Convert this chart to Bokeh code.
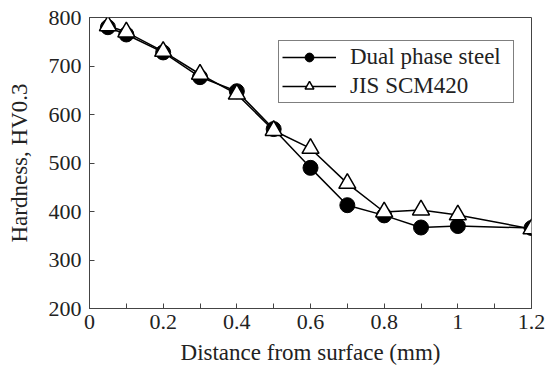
from bokeh.plotting import figure
from bokeh.models import FixedTicker, CustomJSTickFormatter, Legend, LegendItem, Range1d
from bokeh.embed import file_html
from bokeh.resources import INLINE

distance = [0.05, 0.1, 0.2, 0.3, 0.4, 0.5, 0.6, 0.7, 0.8, 0.9, 1.0, 1.2]
dual_phase = [780, 765, 728, 677, 648, 570, 490, 413, 392, 367, 370, 366]
jis_scm420 = [783, 770, 730, 683, 642, 567, 530, 458, 399, 403, 393, 364]
x_ticks = [0, 0.2, 0.4, 0.6, 0.8, 1.0, 1.2]
x_minor = [0.1, 0.3, 0.5, 0.7, 0.9, 1.1]
y_ticks = [200, 300, 400, 500, 600, 700, 800]

FONT = "Liberation Serif"

p = figure(frame_width=442, frame_height=291, output_backend="svg", toolbar_location=None,
           x_range=Range1d(0, 1.2), y_range=Range1d(200, 800),
           min_border_left=89, min_border_right=16, min_border_top=17, min_border_bottom=0)
p.grid.visible = False
p.outline_line_color = "#444444"
p.outline_line_width = 1
p.background_fill_color = "white"
p.border_fill_color = "white"

for ax in (p.xaxis[0], p.yaxis[0]):
    ax.axis_line_color = "#444444"
    ax.major_tick_line_color = "#444444"
    ax.minor_tick_line_color = "#444444"
    ax.major_tick_in = 5
    ax.major_tick_out = 0
    ax.minor_tick_in = 5
    ax.minor_tick_out = 0
    ax.major_label_text_font = FONT
    ax.major_label_text_font_size = "22px"
    ax.major_label_text_color = "#222222"
    ax.axis_label_text_font = FONT
    ax.axis_label_text_font_size = "23px"
    ax.axis_label_text_font_style = "normal"
    ax.axis_label_text_color = "#222222"

p.xaxis.ticker = FixedTicker(ticks=x_ticks, minor_ticks=x_minor)
p.yaxis.ticker = FixedTicker(ticks=y_ticks, minor_ticks=[])
p.xaxis.formatter = CustomJSTickFormatter(code="return Number(tick.toFixed(1)).toString();")
p.xaxis.axis_label = "Distance from surface (mm)"
p.yaxis.axis_label = "Hardness, HV0.3"
p.xaxis.major_label_standoff = 6
p.yaxis.major_label_standoff = 8
p.xaxis.axis_label_standoff = 8
p.yaxis.axis_label_standoff = 14

l1 = p.line(distance, dual_phase, line_color="black", line_width=1.5)
m1 = p.scatter(distance, dual_phase, marker="circle", size=15, fill_color="black", line_color="black")
l2 = p.line(distance, jis_scm420, line_color="black", line_width=1.5)
m2 = p.scatter(distance, jis_scm420, marker="triangle", size=17, fill_color="white", line_color="black", line_width=1.5)

legend = Legend(items=[LegendItem(label="Dual phase steel", renderers=[l1, m1]),
                       LegendItem(label="JIS SCM420", renderers=[l2, m2])],
                location=(189, 205))
legend.border_line_color = "black"
legend.border_line_width = 1
legend.label_text_font = FONT
legend.label_text_font_size = "23px"
legend.label_text_color = "#222222"
legend.glyph_width = 54
legend.glyph_height = 22
legend.label_height = 22
legend.label_width = 160
legend.spacing = 3
legend.padding = 3
legend.margin = 0
legend.label_standoff = 14
legend.background_fill_alpha = 1
p.add_layout(legend, "center")

open("out.html", "w").write(file_html(p, INLINE))
